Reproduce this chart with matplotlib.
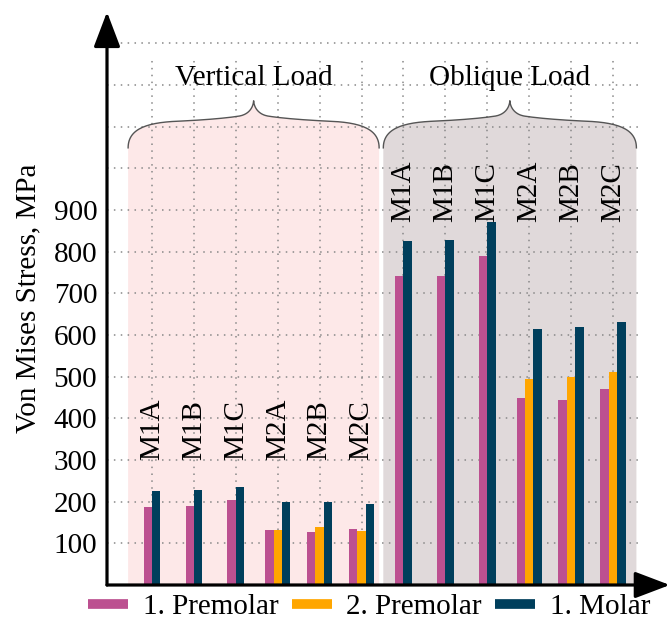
import numpy as np
import matplotlib
matplotlib.use("Agg")
import matplotlib.pyplot as plt
from matplotlib.lines import Line2D

plt.rcParams['font.family'] = ['Liberation Serif', 'DejaVu Serif']
plt.rcParams['font.size'] = 21

# data
categories = ["M1A", "M1B", "M1C", "M2A", "M2B", "M2C"] * 2
loads = ["Vertical Load", "Oblique Load"]
premolar1 = [186, 190, 203, 133, 127, 134, 742, 741, 790, 448, 444, 470]
premolar2 = [np.nan, np.nan, np.nan, 131, 138, 130,
             np.nan, np.nan, np.nan, 494, 500, 511]
molar1 = [225, 228, 235, 199, 198, 195, 826, 827, 870, 615, 618, 630]
series_names = ["1. Premolar", "2. Premolar", "1. Molar"]
colors = ["#bc5090", "#ffa600", "#003f5c"]

label_y = [300, 870]           # where the rotated category names sit
regions = [(-0.57, 5.42), (5.52, 11.56)]
region_colors = ["#fde8e8", "#e0d9da"]

W, H = 667, 637
fig = plt.figure(figsize=(W / 100, H / 100), dpi=100)
# axes placed in pixels: y axis at x=107, x axis at y=585
ax = fig.add_axes([107 / W, (H - 585) / H, (W - 107) / W, (585 - 12) / H])
ax.set_xlim(-1.074, 12.29)
ax.set_ylim(0, 1375)
for s in ax.spines.values():
    s.set_visible(False)
ax.set_xticks([])
ax.set_yticks(range(100, 1000, 100))
ax.tick_params(axis='y', length=0, pad=7)
ax.set_ylabel("Von Mises Stress, MPa")
ax.yaxis.set_label_coords(-66 / (W - 107), 0.5)


def bez(p0, p1, p2, p3, n=30):
    t = np.linspace(0, 1, n)[:, None]
    p0, p1, p2, p3 = map(np.array, (p0, p1, p2, p3))
    return (1 - t) ** 3 * p0 + 3 * (1 - t) ** 2 * t * p1 + 3 * (1 - t) * t ** 2 * p2 + t ** 3 * p3


def brace(xl, xr):
    # half of a curly brace, f = fraction of half width, y in data units
    half = np.vstack([
        bez((0, 1049), (0.0, 1095), (0.15, 1110), (0.40, 1113)),
        bez((0.40, 1113), (0.55, 1115), (0.75, 1119), (0.88, 1125)),
        bez((0.88, 1125), (0.95, 1128), (0.995, 1142), (1.0, 1162)),
    ])
    hw = (xr - xl) / 2
    left = np.column_stack([xl + half[:, 0] * hw, half[:, 1]])
    right = np.column_stack([xr - half[::-1, 0] * hw, half[::-1, 1]])
    return np.vstack([left, right])


for (xl, xr), rc, name in zip(regions, region_colors, loads):
    pts = brace(xl, xr)
    poly = np.vstack([[xl, 0], pts, [xr, 0]])
    ax.fill(poly[:, 0], poly[:, 1], color=rc, lw=0, zorder=0)
    ax.plot(pts[:, 0], pts[:, 1], color="#555555", lw=1.0, zorder=3)
    ax.text((xl + xr) / 2, 1200, name, ha='center', va='baseline', zorder=4)

# dotted grid
xs = np.arange(len(categories))
for yv in range(100, 1400, 100):
    ax.plot([-1.074, 11.65], [yv, yv], color="#888888", lw=1.1,
            ls=(0, (1, 3.5)), zorder=1)
for xv in xs:
    ax.plot([xv, xv], [0, 1265], color="#888888", lw=1.1,
            ls=(0, (1, 3.5)), zorder=1)

# bars
bw = 0.2
for i in xs:
    vals = [premolar1[i], premolar2[i], molar1[i]]
    present = [k for k in range(3) if not np.isnan(vals[k])]
    n = len(present)
    for j, k in enumerate(present):
        off = (j - (n - 1) / 2) * bw
        ax.bar(i + off, vals[k], width=bw, color=colors[k], lw=0, zorder=2)
    ax.text(i, label_y[i // 6], categories[i], rotation=90, ha='center',
            va='bottom', zorder=4)

# axis arrows
arrow = dict(arrowstyle='-|>,head_length=1.08,head_width=0.41', lw=2.3,
             color='black', shrinkA=0, shrinkB=0, mutation_scale=20)
ax.annotate('', xy=(0, 1), xytext=(0, 0), xycoords='axes fraction',
            arrowprops=arrow, annotation_clip=False)
ax.annotate('', xy=(1.005, 0), xytext=(0, 0), xycoords='axes fraction',
            arrowprops=arrow, annotation_clip=False)

handles = [Line2D([], [], color=c, lw=7, solid_capstyle='butt') for c in colors]
fig.legend(handles, series_names, loc='center left',
           bbox_to_anchor=(88 / W, 1 - 607 / H), ncol=3, frameon=False,
           borderaxespad=0, borderpad=0, handlelength=1.38,
           handletextpad=0.5, columnspacing=0.45)

fig.savefig("out.png", dpi=100)
